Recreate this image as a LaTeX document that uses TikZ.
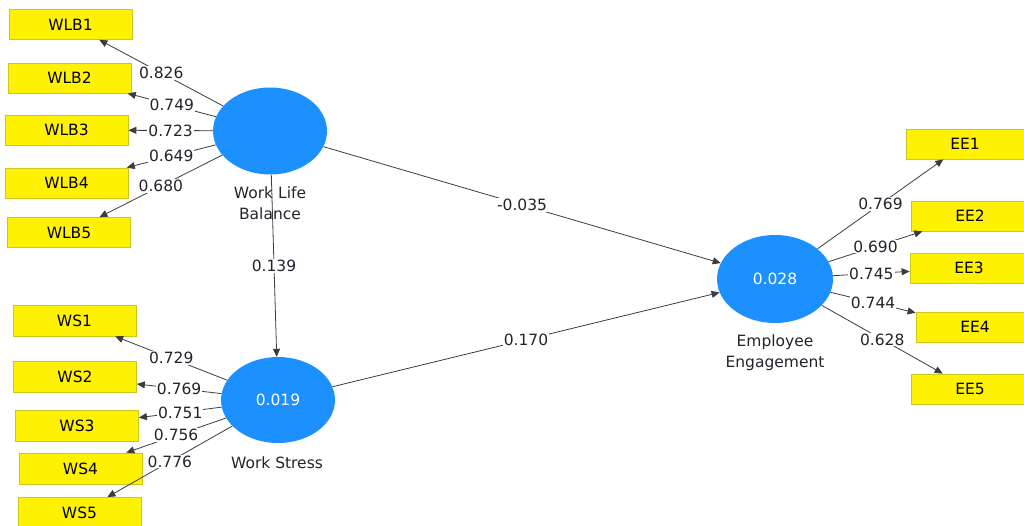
\documentclass[tikz,border=0pt]{standalone}
\usepackage{fontspec}
\setmainfont{DejaVu Sans}
\usetikzlibrary{arrows.meta,shapes.geometric}
\definecolor{lvblue}{RGB}{28,144,255}
\definecolor{mvborder}{RGB}{200,200,30}
\definecolor{linegray}{RGB}{60,60,60}
\definecolor{txtgray}{RGB}{35,35,45}
\begin{document}
\begin{tikzpicture}[x=1pt,y=-1pt,
  every node/.style={font=\fontsize{15.5}{21}\selectfont},
  latent/.style={ellipse, fill=lvblue, draw=none, inner sep=0pt, text=white},
  indicator/.style={rectangle, fill=yellow, draw=mvborder, line width=0.8pt, minimum width=123pt, minimum height=30pt, inner sep=0pt, text=black},
  lvname/.style={align=center, text=txtgray},
  conn/.style={draw=linegray, line width=0.8pt, -{Triangle[length=8pt,width=7pt]}},
  lbl/.style={fill=white, inner sep=1pt, text=txtgray}
]
\useasboundingbox (0,0) rectangle (1024,526);
\clip (0,0) rectangle (1024,526);
\fill[white] (0,0) rectangle (1024,526);

% latent variables
\node[latent, minimum width=114pt, minimum height=87pt] (wlb) at (270,131) {};
\node[latent, minimum width=114pt, minimum height=86pt] (ws) at (278,400) {0.019};
\node[latent, minimum width=116pt, minimum height=88pt] (ee) at (775,279) {0.028};

% indicators
\node[indicator] (wlb1) at (70.5,24.5) {WLB1};
\node[indicator] (wlb2) at (69.5,78) {WLB2};
\node[indicator] (wlb3) at (66.5,130) {WLB3};
\node[indicator] (wlb4) at (66.5,183) {WLB4};
\node[indicator] (wlb5) at (69,232.5) {WLB5};

\node[indicator, minimum height=31pt] (ws1) at (74.5,320.5) {WS1};
\node[indicator, minimum height=31pt] (ws2) at (75,377) {WS2};
\node[indicator, minimum height=31pt] (ws3) at (77,425.5) {WS3};
\node[indicator, minimum height=31pt] (ws4) at (80.5,468.5) {WS4};
\node[indicator, minimum height=31pt] (ws5) at (79.5,513) {WS5};

\node[indicator, minimum width=118pt] (ee1) at (965,144) {EE1};
\node[indicator, minimum width=118pt] (ee2) at (970,216) {EE2};
\node[indicator, minimum width=118pt] (ee3) at (969,268) {EE3};
\node[indicator, minimum width=118pt] (ee4) at (975,327) {EE4};
\node[indicator, minimum width=118pt] (ee5) at (970,389) {EE5};

% outer loadings
\draw[conn] (wlb) -- node[lbl] {0.826} (wlb1);
\draw[conn] (wlb) -- node[lbl] {0.749} (wlb2);
\draw[conn] (wlb) -- node[lbl] {0.723} (wlb3);
\draw[conn] (wlb) -- node[lbl] {0.649} (wlb4);
\draw[conn] (wlb) -- node[lbl] {0.680} (wlb5);

\draw[conn] (ws) -- node[lbl] {0.729} (ws1);
\draw[conn] (ws) -- node[lbl] {0.769} (ws2);
\draw[conn] (ws) -- node[lbl] {0.751} (ws3);
\draw[conn] (ws) -- node[lbl] {0.756} (ws4);
\draw[conn] (ws) -- node[lbl] {0.776} (ws5);

\draw[conn] (ee) -- node[lbl] {0.769} (ee1);
\draw[conn] (ee) -- node[lbl] {0.690} (ee2);
\draw[conn] (ee) -- node[lbl] {0.745} (ee3);
\draw[conn] (ee) -- node[lbl] {0.744} (ee4);
\draw[conn] (ee) -- node[lbl] {0.628} (ee5);

% latent names
\node[lvname] (wlbname) at (270,203.5) {Work Life\\Balance};
\node[lvname] (wsname) at (277,463) {Work Stress};
\node[lvname] (eename) at (775,352.5) {Employee\\Engagement};

% structural paths
\draw[conn] (wlb) -- node[lbl] {0.139} (ws);
\draw[conn] (wlb) -- node[lbl] {-0.035} (ee);
\draw[conn] (ws) -- node[lbl] {0.170} (ee);
\end{tikzpicture}
\end{document}
